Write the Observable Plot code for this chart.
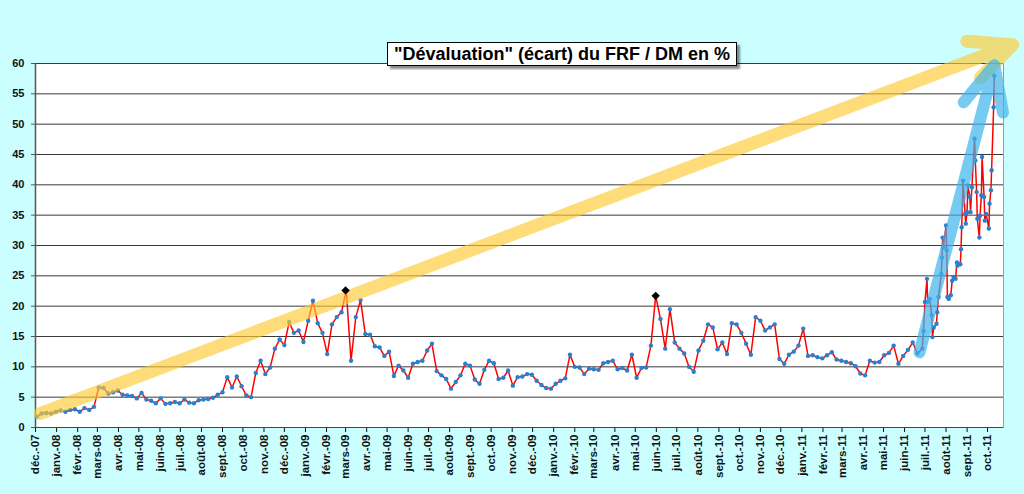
<!DOCTYPE html>
<html>
<head>
<meta charset="utf-8">
<script src="https://cdn.jsdelivr.net/npm/d3@7"></script>
<script src="https://cdn.jsdelivr.net/npm/@observablehq/plot@0.6"></script>
<style>
  html, body { margin: 0; padding: 0; background: #CAFEFF; }
  #wrap { position: relative; width: 1024px; height: 494px; overflow: hidden; }
  #title {
    position: absolute; left: 387px; top: 42px; width: 350px; height: 24px;
    box-sizing: border-box; background: #fff; border: 1px solid #000;
    box-shadow: 3px 3px 2px rgba(0,0,0,0.45);
    font: bold 18px "Liberation Sans", Arial, sans-serif; color: #000;
    text-align: center; line-height: 22px; white-space: nowrap; z-index: 2;
  }
  svg { display: block; }
</style>
</head>
<body>
<div id="wrap">
  <div id="title">"Dévaluation" (écart) du FRF / DM en %</div>
</div>
<script>
// ---- data ----
const weekStart = "2007-12-03"; // weekly readings, one per week from this Monday
const weeklyValues = [
  1.8, 2.3, 2.4, 2.3, 2.6, 2.8, 2.6, 2.9, 3.0, 2.6, 3.2, 2.9, 3.4,
  6.6, 6.5, 5.6, 5.8, 6.1, 5.4, 5.3, 5.2, 4.8, 5.7, 4.6, 4.4, 4.0,
  4.8, 3.9, 4.0, 4.2, 4.0, 4.6, 4.1, 4.0, 4.5, 4.6, 4.7, 4.9, 5.4,
  5.8, 8.3, 6.6, 8.4, 6.8, 5.3, 5.0, 9.0, 11.0, 8.8, 9.9, 13.0, 14.5,
  13.6, 17.4, 15.6, 16.0, 14.1, 17.6, 20.9, 17.2, 15.6, 12.1, 17.0, 18.2, 19.0,
  22.6, 11.0, 18.2, 21.0, 15.4, 15.3, 13.4, 13.2, 11.8, 12.5, 8.5, 10.2, 9.4,
  8.2, 10.5, 10.8, 11.0, 12.7, 13.8, 9.3, 8.6, 8.0, 6.4, 7.5, 8.6, 10.5,
  10.2, 7.9, 7.2, 9.5, 11.0, 10.6, 8.0, 8.2, 9.4, 6.9, 8.3, 8.4, 8.8,
  8.7, 7.7, 7.0, 6.5, 6.4, 7.2, 7.7, 8.1, 12.0, 10.0, 9.9, 8.8, 9.7,
  9.6, 9.5, 10.6, 10.8, 11.0, 9.6, 9.8, 9.4, 12.0, 8.2, 9.8, 9.9, 13.5,
  21.7, 17.9, 13.0, 19.5, 14.0, 13.0, 12.2, 10.0, 9.2, 12.7, 14.3, 17.0, 16.5,
  12.9, 14.0, 12.1, 17.2, 17.0, 15.6, 13.8, 12.0, 18.2, 17.6, 16.0, 16.5, 17.0,
  11.3, 10.5, 12.0, 12.5, 13.5, 16.3, 11.8, 11.9, 11.6, 11.4, 11.9, 12.4, 11.2,
  11.0, 10.8, 10.6, 10.1, 8.9, 8.6, 11.0, 10.7, 10.8, 11.9, 12.3, 13.5, 10.5,
  11.8, 12.8, 14.0, 12.2, 13.0
];
const lateDates = [
  "2011-06-29","2011-07-01","2011-07-04","2011-07-05","2011-07-08","2011-07-11","2011-07-12",
  "2011-07-14","2011-07-18","2011-07-19","2011-07-21","2011-07-25","2011-07-26","2011-07-27",
  "2011-07-28","2011-08-01","2011-08-02","2011-08-03","2011-08-05","2011-08-08","2011-08-10",
  "2011-08-12","2011-08-15","2011-08-17","2011-08-18","2011-08-22","2011-08-23","2011-08-24",
  "2011-08-26","2011-08-29","2011-08-30","2011-09-01","2011-09-02","2011-09-05","2011-09-06",
  "2011-09-08","2011-09-12","2011-09-13","2011-09-15","2011-09-16","2011-09-19","2011-09-20",
  "2011-09-22","2011-09-23","2011-09-26","2011-09-27","2011-09-29","2011-10-03","2011-10-04",
  "2011-10-06","2011-10-07","2011-10-10","2011-10-11"
];
const lateValues = [
  15.9, 20.7, 24.5, 20.7, 21.2, 18.5, 14.9,
  16.5, 17.1, 19.0, 21.5, 25.3, 28.0, 31.3,
  29.7, 33.3, 29.2, 21.5, 21.2, 21.8, 24.2,
  24.8, 24.5, 27.2, 26.7, 26.9, 29.4, 33.0,
  40.7, 35.2, 33.6, 35.5, 39.9, 38.0, 35.5,
  39.6, 47.6, 44.0, 38.8, 34.4, 31.3, 34.9,
  38.3, 44.6, 38.0, 34.1, 35.2, 32.8, 36.9,
  39.1, 42.4, 52.8, 58.0
];
const peakDates = ["2009-03-01", "2010-05-31"];
const peakValues = [22.6, 21.7];
const yTicks = [0, 5, 10, 15, 20, 25, 30, 35, 40, 45, 50, 55, 60];
const monthAbbr = ["janv.","févr.","mars","avr.","mai","juin","juil.","août","sept.","oct.","nov.","déc."];
const xStart = "2007-12-01", xEnd = "2011-10-24T12:00Z";
// annotation arrows (data coordinates)
const trendArrow = [{x1: "2007-12-08", y1: 2.3, x2: "2011-11-07", y2: 63.1}];
const surgeArrow = [{x1: "2011-06-23", y1: 12.4, x2: "2011-10-11", y2: 59.7}];

// ---- build ----
const series = [
  ...weeklyValues.map((v, i) => ({date: d3.utcDay.offset(new Date(weekStart), 7 * i), value: v})),
  ...lateDates.map((d, i) => ({date: new Date(d), value: lateValues[i]}))
];
const peaks = peakDates.map((d, i) => ({date: new Date(d), value: peakValues[i]}));
const toDates = a => a.map(o => ({...o, x1: new Date(o.x1), x2: new Date(o.x2)}));
const monthTicks = d3.utcMonth.range(new Date(xStart), new Date("2011-10-02"));
const fmt = d => `${monthAbbr[d.getUTCMonth()]}-${String(d.getUTCFullYear() % 100).padStart(2, "0")}`;

const chart = Plot.plot({
  width: 1024, height: 494,
  marginTop: 63, marginBottom: 67, marginLeft: 35, marginRight: 21,
  style: {background: "transparent", fontFamily: "'Liberation Sans', Arial, sans-serif", fontSize: "11px", fontWeight: "bold", color: "#111"},
  x: {type: "utc", domain: [new Date(xStart), new Date(xEnd)]},
  y: {domain: [0, 60]},
  marks: [
    Plot.frame({fill: "white", stroke: "#9a9a9a"}),
    Plot.gridY(yTicks, {stroke: "#3a3a3a", strokeOpacity: 1, strokeWidth: 1}),
    Plot.axisY(yTicks, {tickSize: 4, tickPadding: 7, label: null, fontWeight: "bold", fontSize: 11, stroke: "#555"}),
    Plot.axisX(monthTicks, {tickSize: 5, tickPadding: 2, tickRotate: -90, tickFormat: fmt, label: null, fontWeight: "bold", fontSize: 11.5}),
    Plot.ruleX([new Date(xStart)], {stroke: "#555", strokeWidth: 1.5}),
    Plot.ruleY([0], {stroke: "#444", strokeWidth: 1.2}),
    Plot.line(series, {x: "date", y: "value", stroke: "#ff0000", strokeWidth: 1.5}),
    Plot.dot(series, {x: "date", y: "value", r: 2.2, fill: "#2a80cc", stroke: null}),
    Plot.arrow(toDates(trendArrow), {x1: "x1", y1: "y1", x2: "x2", y2: "y2", stroke: "#FFC933", strokeOpacity: 0.65, strokeWidth: 13, headAngle: 50, headLength: 5.3, strokeLinecap: "round", strokeLinejoin: "round"}),
    Plot.arrow(toDates(surgeArrow), {x1: "x1", y1: "y1", x2: "x2", y2: "y2", stroke: "#3DB5EE", strokeOpacity: 0.7, strokeWidth: 12, headAngle: 50, headLength: 6, strokeLinecap: "round", strokeLinejoin: "round"}),
    Plot.dot(peaks, {x: "date", y: "value", symbol: "diamond2", r: 3.8, fill: "black", stroke: null})
  ]
});
document.getElementById("wrap").appendChild(chart);
</script>
</body>
</html>
